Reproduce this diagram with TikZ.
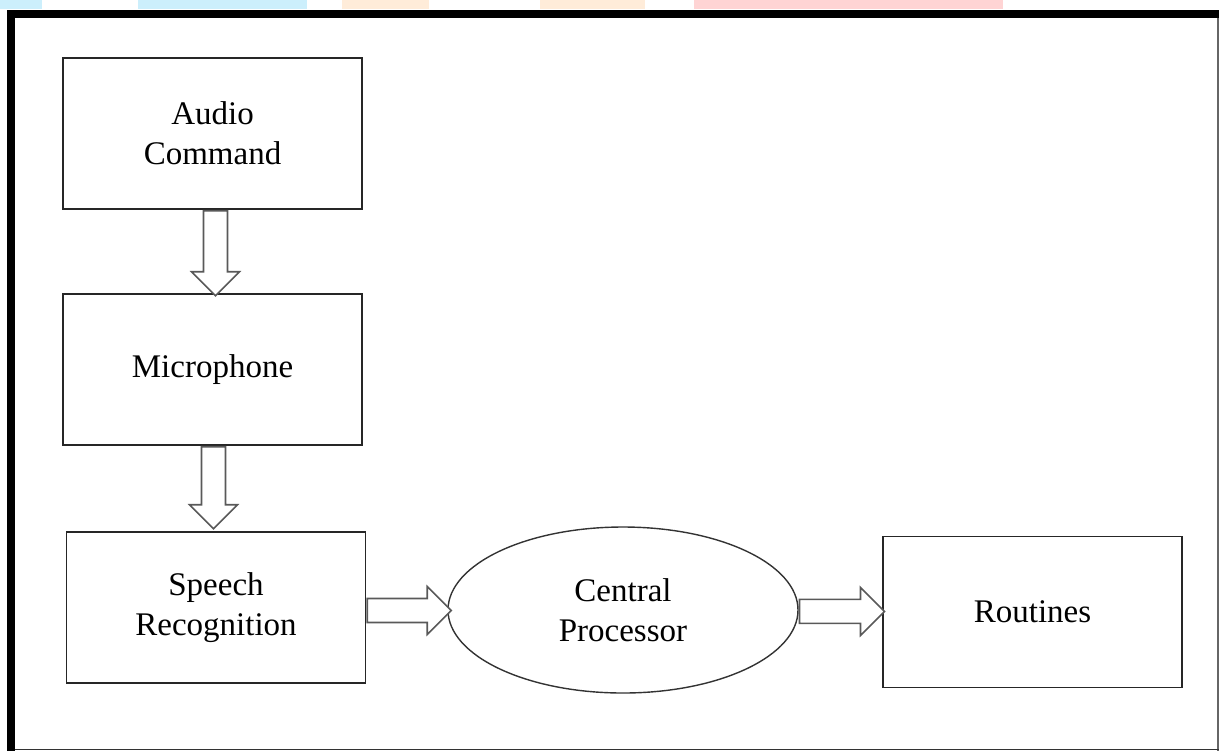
\documentclass[tikz,border=0pt]{standalone}
\usepackage{fontspec}
\setmainfont{Liberation Serif}
\usepackage{tikz}
\usetikzlibrary{shapes,shapes.arrows,positioning,calc}
\usepackage{xcolor}

\begin{document}
\begin{tikzpicture}[x=0.5pt, y=-0.5pt,
        mybox/.style={rectangle, draw=black!85, line width=0.9pt, align=center, inner sep=0pt,
            minimum width=149.5pt, minimum height=75.5pt, font=\fontsize{16.5}{20}\selectfont},
        myellipse/.style={ellipse, draw=black!80, line width=0.7pt, align=center, inner sep=0pt,
            minimum width=175pt, minimum height=83pt, font=\fontsize{16.5}{20}\selectfont},
        blockarrow/.style={single arrow, draw=black!65, line width=0.8pt, fill=white,
            inner xsep=0pt, inner ysep=5.6pt, text height=0pt, text depth=0pt,
            single arrow head extend=6pt}
    ]

    \useasboundingbox (0,0) rectangle (1219,751);

    %page scraps
    \fill[cyan!20] (0,0) rectangle (42,9);
    \fill[cyan!20] (138,0) rectangle (307,9);
    \fill[orange!15] (342,0) rectangle (429,9);
    \fill[orange!15] (540,0) rectangle (645,9);
    \fill[red!17] (694,0) rectangle (1003,9);

    %frame
    \fill[black] (7,10) rectangle (1219,18);
    \fill[black] (7,10) rectangle (15,751);
    \draw[black!60, line width=1pt] (1217.5,18) -- (1217.5,751);
    \draw[black!80, line width=0.8pt] (15,749.5) -- (1219,749.5);

    %nodes
    \node[mybox] (audio) at (212.5,133.5) {Audio\\Command};
    \node[mybox] (mic) at (212.5,369.5) {Microphone};
    \node[mybox] (speech) at (216,607.5) {Speech\\Recognition};
    \node[myellipse] (cpu) at (623,610) {Central\\Processor};
    \node[mybox] (routines) at (1032.5,612) {Routines};

    %arrows
    \node[blockarrow, rotate=-90, anchor=tail, minimum height=42.5pt]
        (a1) at ([xshift=1.5pt]audio.south) {};
    \node[blockarrow, rotate=-90, anchor=tail, minimum height=41pt]
        (a2) at ([xshift=0.5pt]mic.south) {};
    \node[blockarrow, anchor=tail, minimum height=42pt]
        (a3) at ([yshift=-1.5pt]speech.east) {};
    \node[blockarrow, anchor=tail, minimum height=42.5pt]
        (a4) at ([yshift=-0.7pt]cpu.east) {};

\end{tikzpicture}
\end{document}
